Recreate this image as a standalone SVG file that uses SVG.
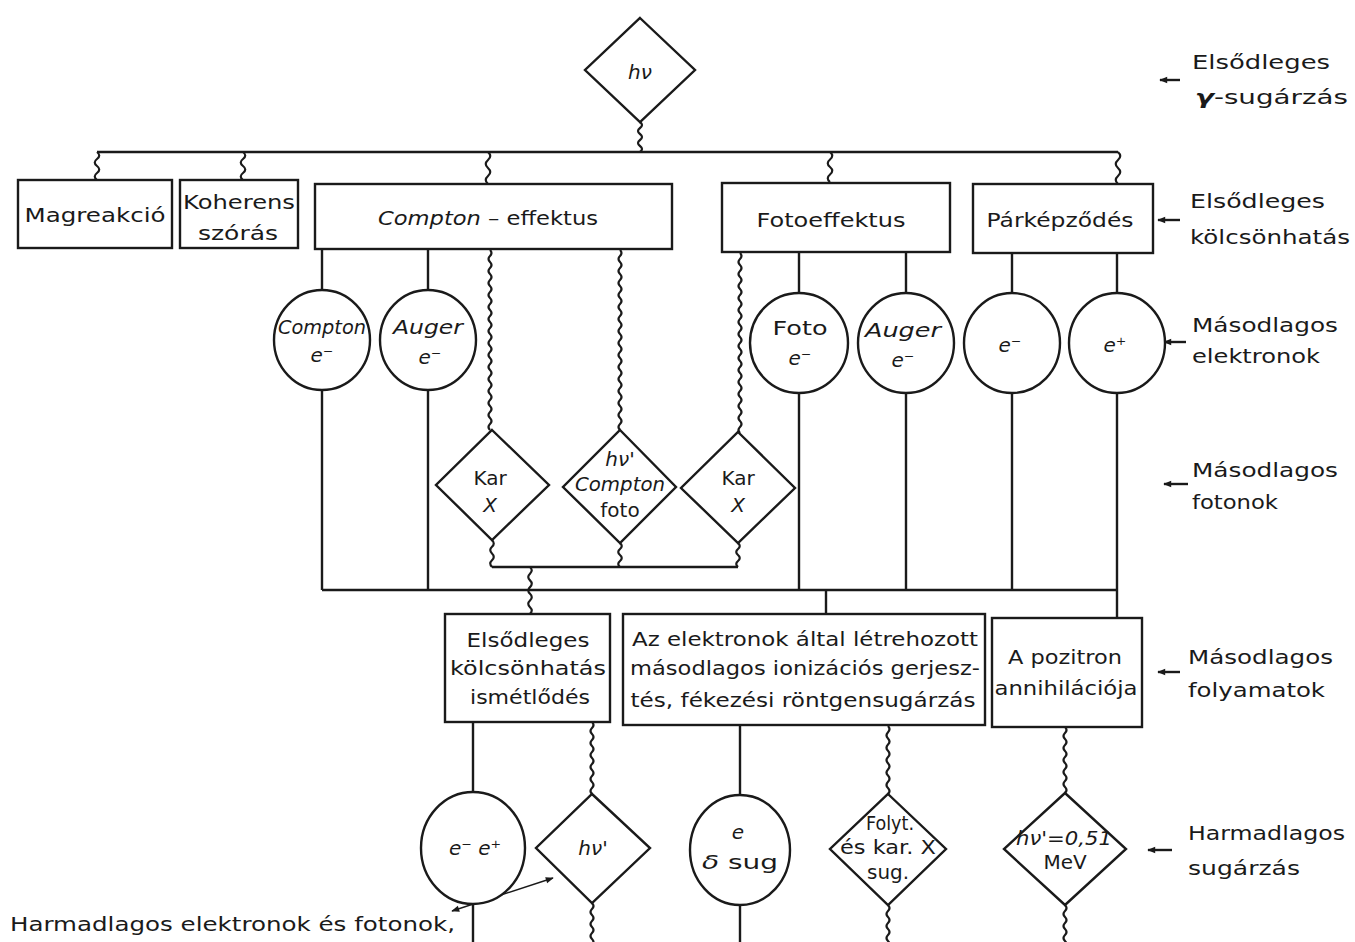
<svg xmlns="http://www.w3.org/2000/svg" width="1355" height="942" viewBox="0 0 1355 942">
<defs>
<marker id="ah" viewBox="0 0 10 10" refX="9" refY="5" markerWidth="10" markerHeight="8" markerUnits="userSpaceOnUse" orient="auto-start-reverse"><path d="M0,1 L10,5 L0,9 z" fill="#1a1a1a"/></marker>
</defs>
<style>
.s{fill:none;stroke:#1a1a1a;stroke-width:2.4}
.n{fill:#fff;stroke:#1a1a1a;stroke-width:2.4}
.w{fill:none;stroke:#1a1a1a;stroke-width:2.2}
.a{fill:none;stroke:#1a1a1a;stroke-width:2.4}
.b{fill:none;stroke:#1a1a1a;stroke-width:1.4}
text{font-family:"DejaVu Sans","Liberation Sans",sans-serif;font-size:20px;fill:#1a1a1a;text-anchor:middle;dominant-baseline:central}
.l{text-anchor:start}
.i{font-style:italic}
</style>
<rect width="1355" height="942" fill="#fff"/>

<g id="connectors">
  <path class="s" d="M97,152 H1118"/>
  <path class="s" d="M322,590 H1117"/>
  <path class="s" d="M492,567 H738"/>
  <path class="s" d="M322,249 V290 M428,249 V290 M799,252 V293 M906,252 V293 M1012,253 V293 M1117,253 V293"/>
  <path class="s" d="M322,390 V590 M428,390 V590 M799,393 V590 M906,393 V590 M1012,393 V590 M1117,393 V618"/>
  <path class="s" d="M826,590 V614"/>
  <path class="s" d="M473,722 V792 M473,904 V942 M740,725 V795 M740,905 V942"/>
  <path class="w" d="M640,122 q4,3 0,6 t0,6 t0,6 t0,6 t0,6"/>
  <path class="w" d="M97,152 q4.5,3.5 0,7 t0,7 t0,7 t0,7"/>
  <path class="w" d="M243,152 q4.5,3.5 0,7 t0,7 t0,7 t0,7"/>
  <path class="w" d="M488,152 q4.5,4 0,8 t0,8 t0,8 t0,8"/>
  <path class="w" d="M830,152 q4.5,3.75 0,7.5 t0,7.5 t0,7.5 t0,7.5"/>
  <path class="w" d="M1118,152 q4.5,4 0,8 t0,8 t0,8 t0,8"/>
  <path class="w" d="M490,250 q3,3 0,6 t0,6 t0,6 t0,6 t0,6 t0,6 t0,6 t0,6 t0,6 t0,6 t0,6 t0,6 t0,6 t0,6 t0,6 t0,6 t0,6 t0,6 t0,6 t0,6 t0,6 t0,6 t0,6 t0,6 t0,6 t0,6 t0,6 t0,6 t0,6 t0,6"/>
  <path class="w" d="M620,250 q3,3 0,6 t0,6 t0,6 t0,6 t0,6 t0,6 t0,6 t0,6 t0,6 t0,6 t0,6 t0,6 t0,6 t0,6 t0,6 t0,6 t0,6 t0,6 t0,6 t0,6 t0,6 t0,6 t0,6 t0,6 t0,6 t0,6 t0,6 t0,6 t0,6 t0,6"/>
  <path class="w" d="M740,253 q3,3 0,6 t0,6 t0,6 t0,6 t0,6 t0,6 t0,6 t0,6 t0,6 t0,6 t0,6 t0,6 t0,6 t0,6 t0,6 t0,6 t0,6 t0,6 t0,6 t0,6 t0,6 t0,6 t0,6 t0,6 t0,6 t0,6 t0,6 t0,6 t0,6 t0,6"/>
  <path class="w" d="M492,540 q3.5,3.4 0,6.75 t0,6.75 t0,6.75 t0,6.75"/>
  <path class="w" d="M620,543 q3.5,3 0,6 t0,6 t0,6 t0,6"/>
  <path class="w" d="M738,543 q3.5,3 0,6 t0,6 t0,6 t0,6"/>
  <path class="w" d="M530,567 q3.5,3.35 0,6.7 t0,6.7 t0,6.7 t0,6.7 t0,6.7 t0,6.7 t0,6.7"/>
  <path class="w" d="M592,722 q3,3 0,6 t0,6 t0,6 t0,6 t0,6 t0,6 t0,6 t0,6 t0,6 t0,6 t0,6 t0,6"/>
  <path class="w" d="M888,726 q3,3.1 0,6.2 t0,6.2 t0,6.2 t0,6.2 t0,6.2 t0,6.2 t0,6.2 t0,6.2 t0,6.2 t0,6.2 t0,6.2"/>
  <path class="w" d="M1065,727 q3,3 0,6 t0,6 t0,6 t0,6 t0,6 t0,6 t0,6 t0,6 t0,6 t0,6 t0,6"/>
  <path class="w" d="M592,903 q3,3 0,6 t0,6 t0,6 t0,6 t0,6 t0,6 t0,6"/>
  <path class="w" d="M888,905 q3,3 0,6 t0,6 t0,6 t0,6 t0,6 t0,6 t0,6"/>
  <path class="w" d="M1065,905 q3,3 0,6 t0,6 t0,6 t0,6 t0,6 t0,6 t0,6"/>
  <path class="a" d="M1160,80 H1180" marker-start="url(#ah)"/>
  <path class="a" d="M1158,220 H1180" marker-start="url(#ah)"/>
  <path class="a" d="M1164,342 H1186" marker-start="url(#ah)"/>
  <path class="a" d="M1164,484 H1188" marker-start="url(#ah)"/>
  <path class="a" d="M1158,672 H1180" marker-start="url(#ah)"/>
  <path class="a" d="M1148,850 H1172" marker-start="url(#ah)"/>
  <path class="b" d="M452,911 L553,878" marker-start="url(#ah)" marker-end="url(#ah)"/>
</g>

<g id="hv0"><polygon class="n" points="640,18 695,70 640,122 585,70"/><text class="i" x="640" y="72" font-size="20">hν</text></g>

<g id="magreakcio"><rect class="n" x="18" y="180" width="154" height="68"/><text x="95" y="215" textLength="141" lengthAdjust="spacingAndGlyphs">Magreakció</text></g>
<g id="koherens"><rect class="n" x="180" y="180" width="118" height="68"/><text x="239" y="202" textLength="112" lengthAdjust="spacingAndGlyphs">Koherens</text><text x="238" y="233" textLength="80" lengthAdjust="spacingAndGlyphs">szórás</text></g>
<g id="compton"><rect class="n" x="315" y="184" width="357" height="65"/><text x="488" y="218" textLength="220" lengthAdjust="spacingAndGlyphs"><tspan class="i">Compton</tspan> – effektus</text></g>
<g id="foto"><rect class="n" x="722" y="183" width="228" height="69"/><text x="831" y="220" textLength="149" lengthAdjust="spacingAndGlyphs">Fotoeffektus</text></g>
<g id="parkepzodes"><rect class="n" x="973" y="184" width="180" height="69"/><text x="1060" y="220" textLength="147" lengthAdjust="spacingAndGlyphs">Párképződés</text></g>

<g id="compton-e"><ellipse class="n" cx="322" cy="340" rx="48" ry="50"/><text class="i" x="322" y="327" font-size="19" textLength="88" lengthAdjust="spacingAndGlyphs">Compton</text><text class="i" x="322" y="355">e⁻</text></g>
<g id="auger-e1"><ellipse class="n" cx="428" cy="340" rx="48" ry="50"/><text class="i" x="428" y="327" textLength="70" lengthAdjust="spacingAndGlyphs">Auger</text><text class="i" x="430" y="357">e⁻</text></g>
<g id="foto-e"><ellipse class="n" cx="799" cy="343" rx="49" ry="50"/><text x="800" y="328" textLength="55" lengthAdjust="spacingAndGlyphs">Foto</text><text class="i" x="800" y="358">e⁻</text></g>
<g id="auger-e2"><ellipse class="n" cx="906" cy="343" rx="48" ry="50"/><text class="i" x="903" y="330" textLength="76" lengthAdjust="spacingAndGlyphs">Auger</text><text class="i" x="903" y="360">e⁻</text></g>
<g id="e-minus"><ellipse class="n" cx="1012" cy="343" rx="48" ry="50"/><text class="i" x="1010" y="345">e⁻</text></g>
<g id="e-plus"><ellipse class="n" cx="1117" cy="343" rx="48" ry="50"/><text class="i" x="1115" y="345">e⁺</text></g>

<g id="kar-x1"><polygon class="n" points="492,430 549,485 492,540 436,485"/><text x="490" y="478">Kar</text><text class="i" x="490" y="505">X</text></g>
<g id="hv-compton"><polygon class="n" points="620,430 676,487 620,543 563,487"/><text class="i" x="620" y="459" font-size="18">hν'</text><text class="i" x="620" y="484" font-size="18" textLength="90" lengthAdjust="spacingAndGlyphs">Compton</text><text x="620" y="510" font-size="18">foto</text></g>
<g id="kar-x2"><polygon class="n" points="738,432 795,488 738,543 681,488"/><text x="738" y="478">Kar</text><text class="i" x="738" y="505">X</text></g>

<g id="ismetlodes"><rect class="n" x="445" y="614" width="165" height="108"/><text x="528" y="640" textLength="123" lengthAdjust="spacingAndGlyphs">Elsődleges</text><text x="528" y="668" textLength="156" lengthAdjust="spacingAndGlyphs">kölcsönhatás</text><text x="530" y="697" textLength="120" lengthAdjust="spacingAndGlyphs">ismétlődés</text></g>
<g id="elektronok"><rect class="n" x="623" y="614" width="362" height="111"/><text x="805" y="639" textLength="346" lengthAdjust="spacingAndGlyphs">Az elektronok által létrehozott</text><text x="805" y="668" textLength="350" lengthAdjust="spacingAndGlyphs">másodlagos ionizációs gerjesz-</text><text x="803" y="700" textLength="345" lengthAdjust="spacingAndGlyphs">tés, fékezési  röntgensugárzás</text></g>
<g id="pozitron"><rect class="n" x="992" y="618" width="150" height="109"/><text x="1065" y="657" textLength="114" lengthAdjust="spacingAndGlyphs">A pozitron</text><text x="1066" y="688" textLength="143" lengthAdjust="spacingAndGlyphs">annihilációja</text></g>

<g id="e-e-plus"><ellipse class="n" cx="473" cy="848" rx="52" ry="56"/><text class="i" x="475" y="848">e⁻ e⁺</text></g>
<g id="hv-prime"><polygon class="n" points="592,794 650,848 592,903 536,848"/><text class="i" x="593" y="848" font-size="20">hν'</text></g>
<g id="e-delta"><ellipse class="n" cx="740" cy="850" rx="50" ry="55"/><text class="i" x="738" y="832">e</text><text x="740" y="862" textLength="76" lengthAdjust="spacingAndGlyphs"><tspan class="i">δ</tspan> sug</text></g>
<g id="folyt"><polygon class="n" points="888,794 946,849 888,905 830,849"/><text x="890" y="823" font-size="18" textLength="48" lengthAdjust="spacingAndGlyphs">Folyt.</text><text x="888" y="847" font-size="18" textLength="96" lengthAdjust="spacingAndGlyphs">és kar. X</text><text x="888" y="872" font-size="18" textLength="42" lengthAdjust="spacingAndGlyphs">sug.</text></g>
<g id="hv-051"><polygon class="n" points="1065,793 1126,849 1065,905 1004,849"/><text class="i" x="1064" y="838" font-size="18" textLength="96" lengthAdjust="spacingAndGlyphs">hν'=0,51</text><text x="1065" y="862" font-size="18">MeV</text></g>

<g id="labels">
  <text class="l" x="1192" y="62" textLength="138" lengthAdjust="spacingAndGlyphs">Elsődleges</text>
  <text class="l" x="1195" y="97" textLength="153" lengthAdjust="spacingAndGlyphs"><tspan font-weight="bold" font-style="italic">γ</tspan>-sugárzás</text>
  <text class="l" x="1190" y="201" textLength="135" lengthAdjust="spacingAndGlyphs">Elsődleges</text>
  <text class="l" x="1190" y="237" textLength="160" lengthAdjust="spacingAndGlyphs">kölcsönhatás</text>
  <text class="l" x="1192" y="325" textLength="146" lengthAdjust="spacingAndGlyphs">Másodlagos</text>
  <text class="l" x="1192" y="356" textLength="128" lengthAdjust="spacingAndGlyphs">elektronok</text>
  <text class="l" x="1192" y="470" textLength="146" lengthAdjust="spacingAndGlyphs">Másodlagos</text>
  <text class="l" x="1192" y="502" textLength="86" lengthAdjust="spacingAndGlyphs">fotonok</text>
  <text class="l" x="1188" y="657" textLength="145" lengthAdjust="spacingAndGlyphs">Másodlagos</text>
  <text class="l" x="1188" y="690" textLength="137" lengthAdjust="spacingAndGlyphs">folyamatok</text>
  <text class="l" x="1188" y="833" textLength="157" lengthAdjust="spacingAndGlyphs">Harmadlagos</text>
  <text class="l" x="1188" y="868" textLength="112" lengthAdjust="spacingAndGlyphs">sugárzás</text>
  <text class="l" x="10" y="924" textLength="445" lengthAdjust="spacingAndGlyphs">Harmadlagos  elektronok és fotonok,</text>
</g>
</svg>
